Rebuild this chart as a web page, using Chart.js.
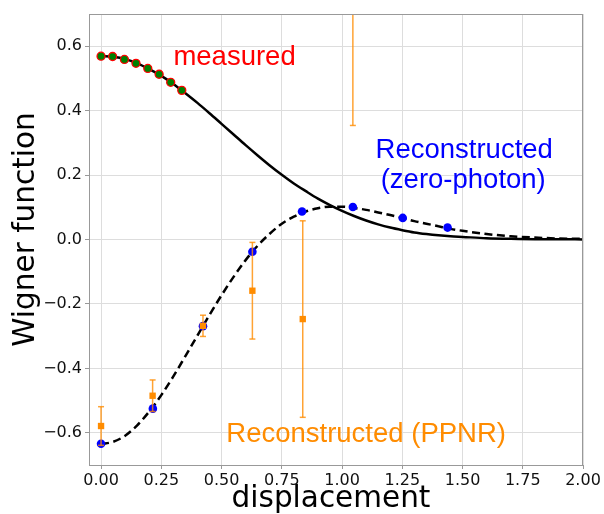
<!DOCTYPE html>
<html>
<head>
<meta charset="utf-8">
<script src="https://cdn.jsdelivr.net/npm/chart.js@4/dist/chart.umd.min.js"></script>
<style>
  body { margin: 0; background: #fff; }
  #wrap { width: 604px; height: 514px; }
</style>
</head>
<body>
<div id="wrap"><canvas id="wigner" width="604" height="514"></canvas></div>
<script>
// measured points (green dots, red edge)
const measX = [0, 0.048, 0.097, 0.145, 0.194, 0.241, 0.289, 0.335];
const measY = [0.569, 0.568, 0.559, 0.547, 0.531, 0.513, 0.488, 0.463];

// reconstructed zero-photon points (blue)
const zeroX = [0, 0.215, 0.423, 0.628, 0.834, 1.045, 1.252, 1.438];
const zeroY = [-0.634, -0.525, -0.269, -0.038, 0.087, 0.101, 0.067, 0.037];

// reconstructed PPNR points (orange) with error bars
const ppnrX = [0, 0.214, 0.423, 0.628, 0.837, 1.045];
const ppnrY = [-0.579, -0.485, -0.268, -0.159, -0.247, 1.0];
const ppnrErr = [0.06, 0.049, 0.033, 0.15, 0.305, 0.646];

// curves
const curveX = [0, 0.05, 0.1, 0.15, 0.2, 0.25, 0.3, 0.35, 0.4, 0.45, 0.5, 0.55, 0.6, 0.65,
  0.7, 0.75, 0.8, 0.85, 0.9, 0.95, 1.0, 1.05, 1.1, 1.15, 1.2, 1.25, 1.3, 1.35, 1.4, 1.45,
  1.5, 1.6, 1.7, 1.8, 1.9, 2.0];
const solidY = [0.570, 0.567, 0.560, 0.547, 0.529, 0.508, 0.483, 0.454, 0.424, 0.392,
  0.359, 0.326, 0.293, 0.261, 0.230, 0.201, 0.174, 0.150, 0.127, 0.107, 0.089, 0.073,
  0.059, 0.047, 0.037, 0.029, 0.022, 0.017, 0.013, 0.010, 0.008, 0.004, 0.002, 0.001,
  0.001, 0.000];
const dashedY = [-0.635, -0.628, -0.609, -0.577, -0.534, -0.483, -0.425, -0.362, -0.298,
  -0.234, -0.173, -0.116, -0.064, -0.019, 0.018, 0.049, 0.071, 0.087, 0.097, 0.102, 0.102,
  0.098, 0.092, 0.084, 0.076, 0.067, 0.057, 0.049, 0.041, 0.033, 0.027, 0.017, 0.010,
  0.006, 0.003, 0.002];

// tick labels
const xTicks = [0, 0.25, 0.5, 0.75, 1.0, 1.25, 1.5, 1.75, 2.0];
const yTicks = [-0.6, -0.4, -0.2, 0, 0.2, 0.4, 0.6];

const ORANGE = '#ff8c00';
const pts = (xs, ys) => xs.map((x, i) => ({x: x, y: ys[i]}));

// text labels in data coordinates
const notes = [
  {text: 'measured', x: 0.554, y: 0.541, color: '#ff0000'},
  {text: 'Reconstructed', x: 1.507, y: 0.253, color: '#0000ff'},
  {text: '(zero-photon)', x: 1.503, y: 0.161, color: '#0000ff'},
  {text: 'Reconstructed (PPNR)', x: 1.10, y: -0.629, color: ORANGE}
];

// one small line dataset per error bar, caps drawn as 'line' points
const errorSets = ppnrX.map((x, i) => ({
  data: [{x: x, y: ppnrY[i] - ppnrErr[i]}, {x: x, y: ppnrY[i] + ppnrErr[i]}],
  showLine: true,
  borderColor: 'rgba(255,140,0,0.8)',
  borderWidth: 1.5,
  pointStyle: 'line',
  pointRadius: 3,
  pointBorderColor: 'rgba(255,140,0,0.8)',
  pointBorderWidth: 1.5,
  clip: 0,
  order: 2
}));

const decor = {
  id: 'decor',
  afterDraw(chart) {
    const {ctx, chartArea: a, scales: {x, y}} = chart;
    ctx.save();
    // top and right spines
    ctx.strokeStyle = '#999';
    ctx.lineWidth = 1;
    ctx.beginPath();
    ctx.moveTo(a.left, Math.round(a.top) + 0.5);
    ctx.lineTo(a.right, Math.round(a.top) + 0.5);
    ctx.moveTo(Math.round(a.right) - 0.5, a.top);
    ctx.lineTo(Math.round(a.right) - 0.5, a.bottom);
    ctx.stroke();

    // annotations
    ctx.font = '27.5px "Liberation Sans", Arial, sans-serif';
    ctx.textAlign = 'center';
    ctx.textBaseline = 'alphabetic';
    notes.forEach(n => {
      ctx.fillStyle = n.color;
      ctx.fillText(n.text, x.getPixelForValue(n.x), y.getPixelForValue(n.y));
    });

    // axis titles
    ctx.fillStyle = '#000';
    ctx.font = '29.5px "DejaVu Sans", sans-serif';
    ctx.fillText('displacement', 331, 507);
    ctx.translate(34, 229.5);
    ctx.rotate(-Math.PI / 2);
    ctx.fillText('Wigner function', 0, 0);
    ctx.restore();
  }
};

new Chart(document.getElementById('wigner'), {
  type: 'scatter',
  data: {
    datasets: [
      {
        data: pts(measX, measY),
        pointStyle: 'circle',
        pointRadius: 4,
        pointBackgroundColor: '#008000',
        pointBorderColor: '#ff0000',
        pointBorderWidth: 1.3,
        order: 0
      },
      {
        data: pts(ppnrX, ppnrY),
        pointStyle: 'rect',
        pointRadius: 4.5,
        pointBackgroundColor: ORANGE,
        pointBorderWidth: 0,
        clip: 0,
        order: 1
      },
      ...errorSets,
      {
        data: pts(zeroX, zeroY),
        pointStyle: 'circle',
        pointRadius: 4.3,
        pointBackgroundColor: '#0000ff',
        pointBorderWidth: 0,
        order: 3
      },
      {
        data: pts(curveX, solidY),
        showLine: true,
        borderColor: '#000',
        borderWidth: 2.5,
        pointRadius: 0,
        cubicInterpolationMode: 'monotone',
        order: 4
      },
      {
        data: pts(curveX, dashedY),
        showLine: true,
        borderColor: '#000',
        borderWidth: 2.5,
        borderDash: [8, 4.5],
        pointRadius: 0,
        cubicInterpolationMode: 'monotone',
        order: 5
      }
    ]
  },
  options: {
    responsive: false,
    animation: false,
    events: [],
    layout: {padding: {top: 14, right: 21, left: 0, bottom: 0}},
    plugins: {legend: {display: false}, tooltip: {enabled: false}},
    scales: {
      x: {
        type: 'linear',
        min: -0.05,
        max: 2.0,
        afterFit: (s) => { s.height = 49; },
        afterBuildTicks: (s) => { s.ticks = xTicks.map(v => ({value: v})); },
        grid: {color: '#dddddd', lineWidth: 1, tickLength: 4, tickColor: '#999'},
        border: {color: '#999', width: 1},
        ticks: {
          padding: 2,
          color: '#111',
          maxRotation: 0,
          font: {family: '"DejaVu Sans", sans-serif', size: 16},
          callback: (v) => v.toFixed(2)
        }
      },
      y: {
        type: 'linear',
        min: -0.7,
        max: 0.7,
        afterFit: (s) => { s.width = 89; },
        afterBuildTicks: (s) => { s.ticks = yTicks.map(v => ({value: v})); },
        grid: {color: '#dddddd', lineWidth: 1, tickLength: 4, tickColor: '#999'},
        border: {color: '#999', width: 1},
        ticks: {
          padding: 3,
          color: '#111',
          font: {family: '"DejaVu Sans", sans-serif', size: 16},
          callback: (v) => v.toFixed(1).replace('-', '\u2212')
        }
      }
    }
  },
  plugins: [decor]
});
</script>
</body>
</html>
